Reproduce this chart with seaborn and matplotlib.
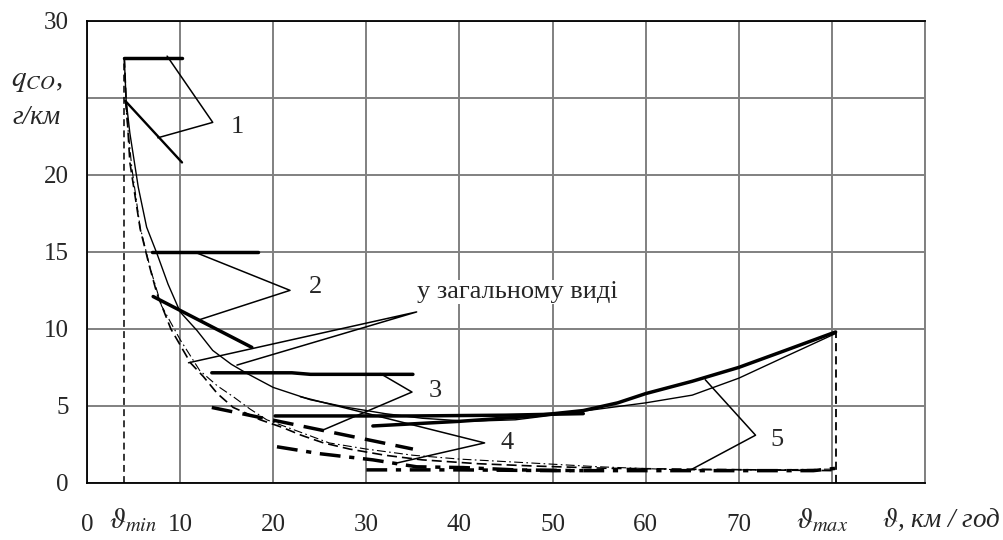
import matplotlib
matplotlib.use("Agg")
import matplotlib.pyplot as plt
import seaborn as sns
import numpy as np

# ---------------- data ----------------
v_min, v_max = 4.0, 80.4
q_top = 27.6
q_at_vmax = 9.8

# general-form curves
general_v = [4.0, 4.2, 4.6, 5.5, 6.4, 7.5, 8.7, 10.0, 11.8, 13.5, 15.5, 17.2, 20.0, 24.0, 28.0,
             32.0, 36.0, 41.0, 46.0, 50.0, 55.0, 60.0, 65.0, 70.0, 75.0, 80.4]
general_q = [27.6, 24.8, 22.7, 19.2, 16.6, 14.9, 12.9, 11.1, 9.9, 8.6, 7.7, 7.1, 6.2, 5.4, 4.9,
             4.5, 4.2, 4.0, 4.1, 4.4, 4.8, 5.2, 5.7, 6.8, 8.2, 9.7]

dashed_v = [4.0, 4.2, 4.6, 5.7, 6.6, 7.5, 9.0, 11.1, 12.5, 14.0, 15.7, 17.2, 18.6, 21.0, 23.0,
            25.4, 28.2, 32.0, 36.0, 42.0, 48.0, 56.0, 64.0, 72.0, 80.4]
dashed_q = [27.6, 24.8, 20.8, 16.5, 14.3, 12.3, 10.0, 7.8, 6.9, 5.8, 4.9, 4.5, 4.1, 3.6, 3.1,
            2.6, 2.2, 1.8, 1.5, 1.25, 1.1, 0.95, 0.9, 0.85, 0.8]

dashdot_v = [4.1, 4.8, 5.7, 6.8, 8.0, 10.0, 12.1, 14.0, 15.7, 17.5, 19.3, 22.9, 26.0, 30.0,
             35.0, 40.0, 47.6, 55.0, 63.7, 72.0, 80.4]
dashdot_q = [24.8, 20.5, 16.6, 13.9, 11.5, 9.3, 7.3, 6.3, 5.6, 4.8, 4.1, 3.3, 2.6, 2.2,
             1.8, 1.55, 1.3, 1.05, 0.85, 0.85, 0.9]

# piecewise approximations (1..5)
seg1_h_v, seg1_h_q = [4.0, 10.2], [27.6, 27.6]
seg1_d_v, seg1_d_q = [4.1, 10.2], [24.8, 20.8]
seg2_h_v, seg2_h_q = [7.0, 18.4], [15.0, 15.0]
seg2_d_v, seg2_d_q = [7.1, 17.7], [12.1, 8.8]
seg3_h_v, seg3_h_q = [13.4, 22.0, 24.0, 35.0], [7.15, 7.15, 7.05, 7.05]
seg3_d_v, seg3_d_q = [13.4, 35.0], [4.9, 2.2]
seg4_h_v, seg4_h_q = [20.2, 35.0, 45.0, 53.3], [4.35, 4.35, 4.4, 4.5]
seg4_d_v, seg4_d_q = [20.4, 25.0, 30.7, 35.4, 40.4, 46.0, 53.3], [2.35, 1.9, 1.5, 1.05, 1.0, 0.85, 0.8]
seg5_c_v = [30.7, 40.0, 47.0, 53.3, 57.0, 60.0, 65.0, 70.0, 75.0, 80.4]
seg5_c_q = [3.7, 4.0, 4.3, 4.7, 5.2, 5.8, 6.6, 7.5, 8.6, 9.8]
seg5_d_v, seg5_d_q = [30.0, 40.0, 50.0, 60.0, 70.0, 78.0, 80.4], [0.85, 0.85, 0.8, 0.8, 0.8, 0.8, 0.95]

# leader lines (label point in the middle)
lead1_v, lead1_q = [8.6, 13.5, 7.6], [27.7, 23.4, 22.4]
lead2_v, lead2_q = [11.9, 21.8, 12.1], [14.9, 12.5, 10.6]
leadg_v, leadg_q = [10.9, 35.4, 16.1], [7.8, 11.1, 7.65]
lead3_v, lead3_q = [31.5, 34.9, 25.2], [7.1, 5.9, 3.4]
lead4_v, lead4_q = [22.9, 42.7, 33.3], [5.6, 2.6, 1.3]
lead5_v, lead5_q = [66.4, 71.8, 64.8], [6.7, 3.1, 0.84]

labels_text = ["1", "2", "3", "4", "5"]
labels_v = [16.1, 24.5, 37.4, 45.1, 74.1]
labels_q = [23.1, 12.7, 6.0, 2.6, 2.8]
general_label = "у загальному виді"

x_ticks = [0, 10, 20, 30, 40, 50, 60, 70, 80, 90]
x_ticklabels = ["0", "10", "20", "30", "40", "50", "60", "70", "", ""]
y_ticks = [0, 5, 10, 15, 20, 25, 30]
y_ticklabels = ["0", "5", "10", "15", "20", "", "30"]

# ---------------- style ----------------
sns.set_theme(style="white")
plt.rcParams["font.family"] = ["Liberation Serif", "DejaVu Serif"]
plt.rcParams["mathtext.fontset"] = "stix"

fig = plt.figure(figsize=(10.04, 5.40), dpi=100)
ax = fig.add_axes([0.0867, 0.1056, 0.8346, 0.8561])

K = "black"
THICK, MED, THIN = 2.5, 1.7, 1.0

def line(v, q, lw, ls="-", color=K, z=3):
    sns.lineplot(x=v, y=q, ax=ax, color=color, lw=lw, linestyle=ls, sort=False,
                 estimator=None, legend=False, zorder=z)

# general curves
line(general_v, general_q, THIN)
line(dashed_v, dashed_q, 1.2, (0, (6, 3)))
line(dashdot_v, dashdot_q, 0.8, (0, (8, 3, 1.5, 3)))

# v_min / v_max verticals
line([v_min, v_min], [0, q_top], 1.1, (0, (4.5, 2.8)))
line([v_max, v_max], [0, q_at_vmax], 1.3, (0, (4.5, 2.8)))

# piecewise segments
line(seg1_h_v, seg1_h_q, THICK)
line(seg1_d_v, seg1_d_q, MED)
line(seg2_h_v, seg2_h_q, THICK)
line(seg2_d_v, seg2_d_q, THICK)
line(seg3_h_v, seg3_h_q, THICK)
line(seg3_d_v, seg3_d_q, THICK, (0, (6, 3)))
line(seg4_h_v, seg4_h_q, THICK)
line(seg4_d_v, seg4_d_q, THICK, (0, (6, 2.5, 1.5, 2.5)))
line(seg5_c_v, seg5_c_q, THICK)
line(seg5_d_v, seg5_d_q, THICK, (0, (6, 2.5, 1.5, 2.5)))

# leader lines
for lv, lq in [(lead1_v, lead1_q), (lead2_v, lead2_q), (leadg_v, leadg_q),
               (lead3_v, lead3_q), (lead4_v, lead4_q), (lead5_v, lead5_q)]:
    line(lv, lq, 1.1)

FS = 18
LFS = 19
for t, lv, lq in zip(labels_text, labels_v, labels_q):
    ax.text(lv, lq, t, fontsize=LFS, ha="center", va="center", zorder=5)
ax.text(35.4, 12.4, general_label, fontsize=LFS, ha="left", va="center", zorder=5,
        bbox=dict(facecolor="white", edgecolor="none", pad=0.5))

# axes
ax.set_xlim(0, 90)
ax.set_ylim(0, 30)
ax.set_xticks(x_ticks)
ax.set_xticklabels(x_ticklabels, fontsize=FS)
ax.set_yticks(y_ticks)
ax.set_yticklabels(y_ticklabels, fontsize=FS)
ax.tick_params(axis="x", direction="out", length=7, width=1.2, color="#555555", pad=15)
ax.tick_params(axis="y", direction="out", length=7, width=1.2, color="#333333", pad=6)
ax.grid(True, color="#808080", lw=1.4, zorder=0)
ax.set_axisbelow(True)
for s in ["left", "bottom", "top"]:
    ax.spines[s].set_color("black")
    ax.spines[s].set_linewidth(1.3)
ax.spines["right"].set_color("#808080")
ax.spines["right"].set_linewidth(1.4)
ax.set_xlabel("")
ax.set_ylabel("")

# special tick-like labels
tr = ax.get_xaxis_transform()
ax.text(5.0, -0.08, r"$\vartheta_{min}$", transform=tr, fontsize=21,
        ha="center", va="center", clip_on=False)
ax.text(79.0, -0.08, r"$\vartheta_{max}$", transform=tr, fontsize=21,
        ha="center", va="center", clip_on=False)
ax.text(91.8, -0.08, r"$\vartheta$, км / год", transform=tr, fontsize=19.5,
        ha="center", va="center", style="italic", clip_on=False)

# y axis label
fig.text(0.037, 0.850, r"$q_{CO}$,", fontsize=21, ha="center", va="center")
fig.text(0.036, 0.783, "г/км", fontsize=19.5, ha="center", va="center", style="italic")

fig.savefig("out.png", dpi=100)
